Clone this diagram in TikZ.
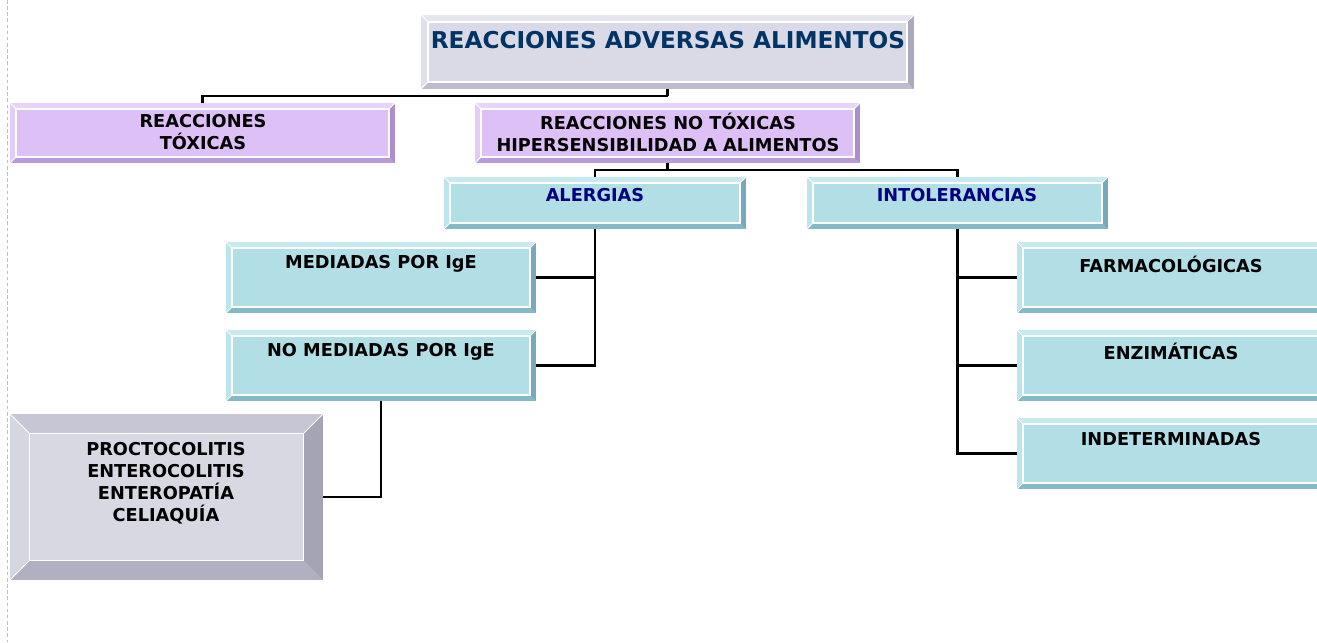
\documentclass[tikz,border=0pt]{standalone}
\usepackage{fontspec}
\setmainfont{DejaVu Sans}
\usepackage{tikz}

\definecolor{titleblue}{HTML}{003366}
\definecolor{navy}{HTML}{000080}
% gris (titulo)
\definecolor{grface}{RGB}{218,218,230}
\definecolor{grtop}{RGB}{230,230,240}
\definecolor{grleft}{RGB}{224,224,236}
\definecolor{grbot}{RGB}{188,188,206}
\definecolor{grright}{RGB}{170,170,190}
% lila
\definecolor{liface}{RGB}{221,192,245}
\definecolor{litop}{RGB}{232,212,250}
\definecolor{lileft}{RGB}{226,204,248}
\definecolor{libot}{RGB}{188,155,218}
\definecolor{liright}{RGB}{172,142,202}
% azul
\definecolor{blface}{RGB}{178,222,230}
\definecolor{bltop}{RGB}{198,234,240}
\definecolor{blleft}{RGB}{188,228,236}
\definecolor{blbot}{RGB}{132,186,200}
\definecolor{blright}{RGB}{118,170,186}
% gris grande
\definecolor{bgface}{RGB}{216,216,226}
\definecolor{bgtop}{RGB}{198,198,212}
\definecolor{bgleft}{RGB}{214,214,224}
\definecolor{bgbot}{RGB}{176,176,192}
\definecolor{bgright}{RGB}{164,164,180}

\newcommand{\bevelsides}[2]{%
\coordinate (nw) at (path picture bounding box.north west);
\coordinate (ne) at (path picture bounding box.north east);
\coordinate (sw) at (path picture bounding box.south west);
\coordinate (se) at (path picture bounding box.south east);
\coordinate (inw) at ([shift={(#2,-#2)}]nw);
\coordinate (ine) at ([shift={(-#2,-#2)}]ne);
\coordinate (isw) at ([shift={(#2,#2)}]sw);
\coordinate (ise) at ([shift={(-#2,#2)}]se);
\fill[#1top] (nw) -- (ne) -- (ine) -- (inw) -- cycle;
\fill[#1left] (nw) -- (inw) -- (isw) -- (sw) -- cycle;
\fill[#1bot] (sw) -- (isw) -- (ise) -- (se) -- cycle;
\fill[#1right] (ne) -- (se) -- (ise) -- (ine) -- cycle;
\draw[white, line width=0.7pt] (inw) rectangle (ise);
\draw[white, line width=0.5pt] (nw) -- (inw) (sw) -- (isw) (ne) -- (ine);
}

\tikzset{
box/.style={inner sep=0pt, outer sep=0pt},
graybox/.style={box, fill=grface, path picture={\bevelsides{gr}{0.14cm}}},
lilabox/.style={box, fill=liface, path picture={\bevelsides{li}{0.12cm}}},
bluebox/.style={box, fill=blface, path picture={\bevelsides{bl}{0.12cm}}},
bigbox/.style={box, fill=bgface, path picture={\bevelsides{bg}{0.39cm}}},
lbl/.style={inner sep=0pt, align=center, font=\bfseries\fontsize{10.1}{12.5}\selectfont},
conn/.style={line width=1.3pt, black}
}

\begin{document}
\begin{tikzpicture}[x=0.02cm, y=-0.02cm]
\useasboundingbox (0,0) rectangle (1317,642);
\draw[black!25, line width=0.5pt, dash pattern=on 2pt off 1.5pt] (7,0) -- (7,642);

% cajas
\node[graybox, minimum width=9.86cm, minimum height=1.48cm] (adv) at (667.5,52) {};
\node[lilabox, minimum width=7.7cm, minimum height=1.2cm] (tox) at (202.5,133) {};
\node[lilabox, minimum width=7.7cm, minimum height=1.2cm] (notox) at (667.5,133) {};
\node[bluebox, minimum width=6.04cm, minimum height=1.04cm] (alerg) at (595,203) {};
\node[bluebox, minimum width=6.02cm, minimum height=1.04cm] (intol) at (957.5,203) {};
\node[bluebox, minimum width=6.2cm, minimum height=1.42cm] (meg) at (381,277.5) {};
\node[bluebox, minimum width=6.2cm, minimum height=1.42cm] (nomeg) at (381,365.5) {};
\node[bigbox, minimum width=6.26cm, minimum height=3.32cm] (procto) at (166.5,497) {};
\node[bluebox, minimum width=6.26cm, minimum height=1.42cm] (farm) at (1173.5,277.5) {};
\node[bluebox, minimum width=6.26cm, minimum height=1.42cm] (enz) at (1173.5,365.5) {};
\node[bluebox, minimum width=6.26cm, minimum height=1.42cm] (indet) at (1173.5,453.5) {};

% textos
\node[lbl, text=titleblue, font=\bfseries\fontsize{13.2}{15}\selectfont] (t-adv) at (668,40) {REACCIONES ADVERSAS ALIMENTOS};
\node[lbl] (t-tox) at (203,132) {REACCIONES\\TÓXICAS};
\node[lbl] (t-notox) at (668,132) {REACCIONES NO TÓXICAS\\HIPERSENSIBILIDAD A ALIMENTOS};
\node[lbl, text=navy] (t-alerg) at (595,195) {ALERGIAS};
\node[lbl, text=navy] (t-intol) at (957,195) {INTOLERANCIAS};
\node[lbl] (t-meg) at (381,264) {MEDIADAS POR IgE};
\node[lbl] (t-nomeg) at (381,352) {NO MEDIADAS POR IgE};
\node[lbl] (t-procto) at (166,483) {PROCTOCOLITIS\\ENTEROCOLITIS\\ENTEROPATÍA\\CELIAQUÍA};
\node[lbl] (t-farm) at (1171,264) {FARMACOLÓGICAS};
\node[lbl] (t-enz) at (1171,351) {ENZIMÁTICAS};
\node[lbl] (t-indet) at (1171,439) {INDETERMINADAS};

% conectores
\coordinate (j1) at (667.5,96);
\coordinate (j2) at (667.5,170);
\draw[conn] (adv.south) -- (j1);
\draw[conn] (tox.north) |- (j1);
\draw[conn] (notox.south) -- (j2);
\draw[conn] (alerg.north) |- (j2) -| (intol.north);
\draw[conn] (alerg.south) |- (nomeg.east);
\draw[conn] (meg.east) -| (alerg.south);
\draw[conn] (nomeg.south) |- (procto.east);
\draw[conn] (intol.south) |- (indet.west);
\draw[conn] (farm.west) -| (intol.south);
\draw[conn] (enz.west) -| (intol.south);

\end{tikzpicture}
\end{document}
